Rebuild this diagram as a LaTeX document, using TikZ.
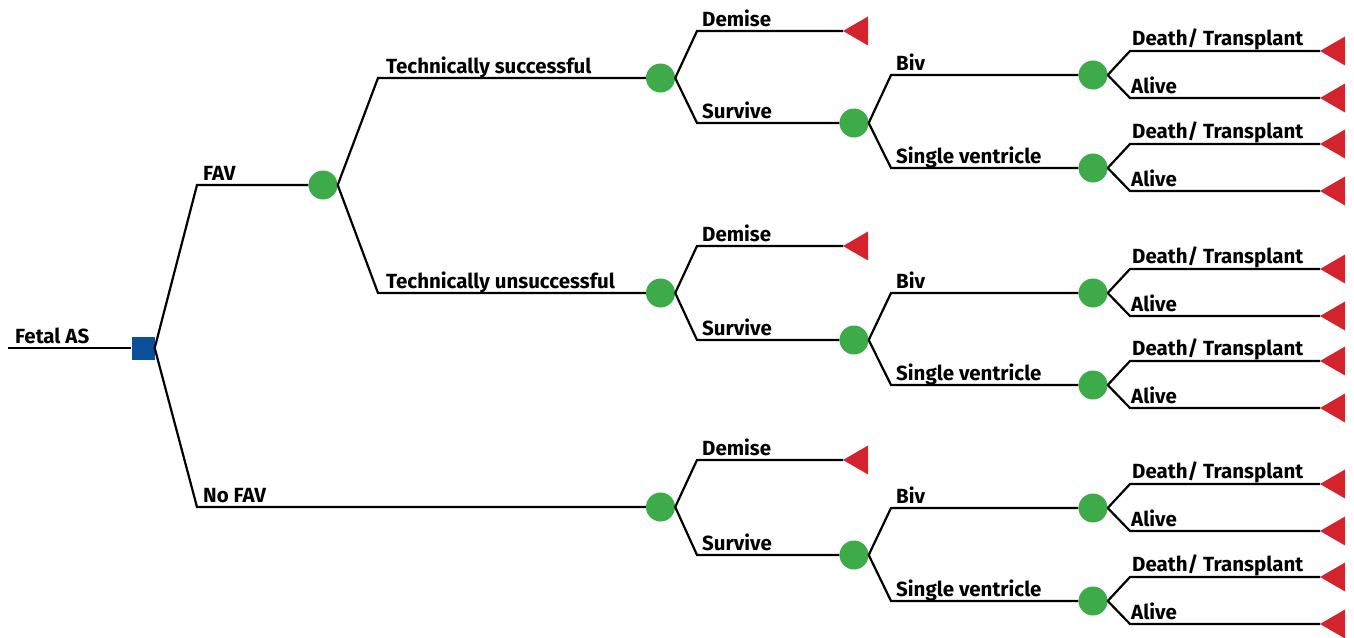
\documentclass[tikz,border=0pt]{standalone}
\usepackage{fontspec}
\setmainfont{Fira Sans}
\usetikzlibrary{calc}
\definecolor{dgreen}{RGB}{61,171,74}
\definecolor{dred}{RGB}{213,35,45}
\definecolor{dblue}{RGB}{10,80,155}
\tikzset{
  br/.style={line width=2.2pt, black},
  chance/.style={circle, fill=dgreen, minimum size=29pt, inner sep=0pt},
  decision/.style={rectangle, fill=dblue, minimum size=23pt, inner sep=0pt},
  lab/.style={anchor=base west, inner sep=0pt, font=\fontsize{20.5}{22}\selectfont\bfseries},
  termtri/.style={fill=dred}
}
\newcommand\termtriangle[1]{\fill[termtri] (#1) -- ++(25,-14.5) -- ++(0,29) -- cycle;}
\newcommand\decsubtree[5]{%
  \node[chance] (#1c3) at (660.5,#2) {};
  \node[chance] (#1c4) at (854,#3) {};
  \node[chance] (#1c5a) at (1093,#4) {};
  \node[chance] (#1c5b) at (1093,#5) {};
  \coordinate (#1td) at (843,#2-47);
  \coordinate (#1t1) at (1320,#4-24);
  \coordinate (#1t2) at (1320,#4+23);
  \coordinate (#1t3) at (1320,#5-24);
  \coordinate (#1t4) at (1320,#5+23);
  \termtriangle{#1td}\termtriangle{#1t1}\termtriangle{#1t2}\termtriangle{#1t3}\termtriangle{#1t4}
  \draw[br] (#1c3.east) -- (k3 |- #1td) -- (#1td);
  \draw[br] (#1c3.east) -- (k3 |- #1c4) -- (#1c4.west);
  \draw[br] (#1c4.east) -- (k4 |- #1c5a) -- (#1c5a.west);
  \draw[br] (#1c4.east) -- (k4 |- #1c5b) -- (#1c5b.west);
  \draw[br] (#1c5a.east) -- (k5 |- #1t1) -- (#1t1);
  \draw[br] (#1c5a.east) -- (k5 |- #1t2) -- (#1t2);
  \draw[br] (#1c5b.east) -- (k5 |- #1t3) -- (#1t3);
  \draw[br] (#1c5b.east) -- (k5 |- #1t4) -- (#1t4);
  \node[lab] (#1l1) at ($(k3 |- #1td)+(5,-5)$) {Demise};
  \node[lab] (#1l2) at ($(k3 |- #1c4)+(5,-5)$) {Survive};
  \node[lab] (#1l3) at ($(k4 |- #1c5a)+(5,-5)$) {Biv};
  \node[lab] (#1l4) at ($(k4 |- #1c5b)+(5,-5)$) {Single ventricle};
  \node[lab] (#1l5) at ($(k5 |- #1t1)+(2,-6)$) {Death/ Transplant};
  \node[lab] (#1l6) at ($(k5 |- #1t2)+(1,-5)$) {Alive};
  \node[lab] (#1l7) at ($(k5 |- #1t3)+(2,-6)$) {Death/ Transplant};
  \node[lab] (#1l8) at ($(k5 |- #1t4)+(1,-5)$) {Alive};
}
\begin{document}
\begin{tikzpicture}[x=1pt,y=-1pt]
\useasboundingbox (0,0) rectangle (1354,637);
\coordinate (k1) at (197,0);
\coordinate (k2) at (378,0);
\coordinate (k3) at (697,0);
\coordinate (k4) at (891,0);
\coordinate (k5) at (1130,0);
\coordinate (root) at (8,348);
\node[decision] (sq) at (143,348) {};
\node[chance] (fav) at (323,185) {};
\draw[br] (root) -- (sq.west);
\node[lab] (lroot) at (15,343) {Fetal AS};
\decsubtree{A}{78}{123}{75}{168}
\decsubtree{B}{293}{340}{293}{385}
\decsubtree{C}{507}{555}{508}{601}
\draw[br] (sq.east) -- (k1 |- fav) -- (fav.west);
\draw[br] (sq.east) -- (k1 |- Cc3) -- (Cc3.west);
\draw[br] (fav.east) -- (k2 |- Ac3) -- (Ac3.west);
\draw[br] (fav.east) -- (k2 |- Bc3) -- (Bc3.west);
\node[lab] (lfav) at ($(k1 |- fav)+(6,-5)$) {FAV};
\node[lab] (lnofav) at ($(k1 |- Cc3)+(6,-5)$) {No FAV};
\node[lab] (lts) at ($(k2 |- Ac3)+(8,-5)$) {Technically successful};
\node[lab] (ltu) at ($(k2 |- Bc3)+(8,-5)$) {Technically unsuccessful};
\end{tikzpicture}
\end{document}
